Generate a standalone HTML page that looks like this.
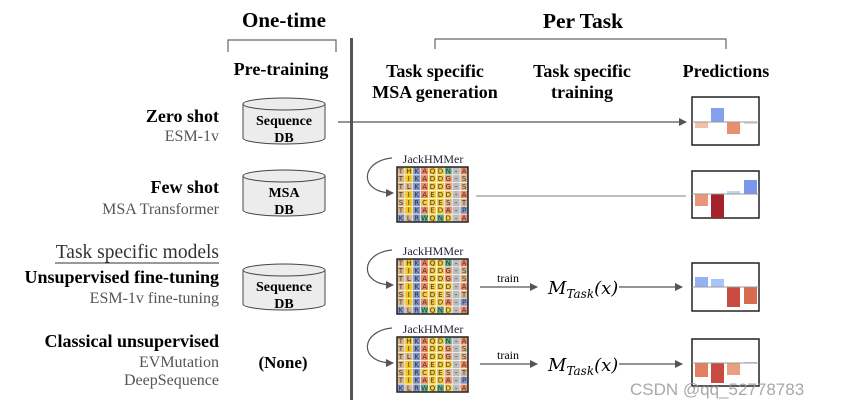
<!DOCTYPE html>
<html><head><meta charset="utf-8"><style>
html,body{margin:0;padding:0;background:#fff;width:845px;height:409px;overflow:hidden}
svg{display:block}
.h{font-family:"Liberation Serif",serif;font-weight:bold;fill:#000}
.s{font-family:"Liberation Serif",serif;fill:#555}
</style></head><body>
<svg id="sv" width="845" height="409" viewBox="0 0 845 409" xmlns="http://www.w3.org/2000/svg">
<defs><marker id="ar" markerWidth="8" markerHeight="8" refX="7" refY="4" orient="auto" markerUnits="userSpaceOnUse"><path d="M0,0 L8,4 L0,8 z" fill="#555"/></marker></defs>
<!-- headers -->
<text class="h" x="284" y="27" font-size="21" text-anchor="middle">One-time</text>
<path d="M228,52 V40 H336 V52" fill="none" stroke="#666" stroke-width="1.2"/>
<text class="h" x="281" y="75" font-size="18" text-anchor="middle">Pre-training</text>
<text class="h" x="583" y="28" font-size="21.5" text-anchor="middle">Per Task</text>
<path d="M435,49 V39 H726 V49" fill="none" stroke="#666" stroke-width="1.2"/>
<text class="h" x="435" y="77" font-size="18" text-anchor="middle">Task specific</text>
<text class="h" x="435" y="98" font-size="18" text-anchor="middle">MSA generation</text>
<text class="h" x="582" y="77" font-size="18" text-anchor="middle">Task specific</text>
<text class="h" x="582" y="98" font-size="18" text-anchor="middle">training</text>
<text class="h" x="726" y="77" font-size="18" text-anchor="middle">Predictions</text>
<rect x="350" y="38" width="3" height="362" fill="#555"/>
<!-- left labels -->
<text class="h" x="219" y="122" font-size="18" text-anchor="end">Zero shot</text>
<text class="s" x="219" y="141" font-size="16" text-anchor="end">ESM-1v</text>
<text class="h" x="219" y="193" font-size="18" text-anchor="end">Few shot</text>
<text class="s" x="219" y="214" font-size="16" text-anchor="end">MSA Transformer</text>
<text x="219" y="258" font-size="19.5" text-anchor="end" font-family="Liberation Serif,serif" fill="#333">Task specific models</text>
<line x1="55" y1="263" x2="219" y2="263" stroke="#333" stroke-width="1"/>
<text class="h" x="219" y="283" font-size="18" text-anchor="end">Unsupervised fine-tuning</text>
<text class="s" x="219" y="303" font-size="16" text-anchor="end">ESM-1v fine-tuning</text>
<text class="h" x="219" y="347" font-size="18" text-anchor="end">Classical unsupervised</text>
<text class="s" x="219" y="367" font-size="16" text-anchor="end">EVMutation</text>
<text class="s" x="219" y="385" font-size="16" text-anchor="end">DeepSequence</text>
<text class="h" x="283" y="368" font-size="17" text-anchor="middle">(None)</text>
<!-- arrows -->
<line x1="338" y1="122" x2="686" y2="122" stroke="#555" stroke-width="1.2" marker-end="url(#ar)"/>
<line x1="476" y1="196" x2="686" y2="196" stroke="#999" stroke-width="1.2"/>
<line x1="480" y1="287" x2="537" y2="287" stroke="#555" stroke-width="1.2" marker-end="url(#ar)"/>
<line x1="619" y1="287" x2="682" y2="287" stroke="#555" stroke-width="1.2" marker-end="url(#ar)"/>
<line x1="480" y1="364" x2="537" y2="364" stroke="#555" stroke-width="1.2" marker-end="url(#ar)"/>
<line x1="619" y1="364" x2="682" y2="364" stroke="#555" stroke-width="1.2" marker-end="url(#ar)"/>
<text x="508" y="282" font-size="12" text-anchor="middle" font-family="Liberation Serif,serif">train</text>
<text x="508" y="359" font-size="12" text-anchor="middle" font-family="Liberation Serif,serif">train</text>
<text x="548" y="294" font-size="18" font-family="DejaVu Serif,serif" font-style="italic">M<tspan font-size="12" dy="4">Task</tspan><tspan dy="-4">(x)</tspan></text>
<text x="548" y="371" font-size="18" font-family="DejaVu Serif,serif" font-style="italic">M<tspan font-size="12" dy="4">Task</tspan><tspan dy="-4">(x)</tspan></text>
<g id="dyn"></g>
<text x="630" y="395" font-size="17" font-family="Liberation Sans,sans-serif" fill="#999" opacity="0.85">CSDN @qq_52778783</text>
</svg>
<script>
var g=document.getElementById('dyn'),h='';
function cyl(y,t1,t2){var x=243,w=82,rx=41,ry=6,H=46;
h+='<path d="M'+x+','+(y+ry)+' V'+(y+ry+H-12)+' A'+rx+','+ry+' 0 0 0 '+(x+w)+','+(y+ry+H-12)+' V'+(y+ry)+'" fill="#ececec" stroke="#444" stroke-width="1"/>';
h+='<ellipse cx="'+(x+rx)+'" cy="'+(y+ry)+'" rx="'+rx+'" ry="'+ry+'" fill="#ececec" stroke="#444" stroke-width="1"/>';
if(t2){h+='<text class="h" x="284" y="'+(y+27)+'" font-size="14" text-anchor="middle">'+t1+'</text><text class="h" x="284" y="'+(y+44)+'" font-size="14" text-anchor="middle">'+t2+'</text>';}}
cyl(98,'Sequence','DB');cyl(170,'MSA','DB');cyl(264,'Sequence','DB');
var rows=['THKAQDN-A','TIKADDG-S','TLKADDG-S','TIKAEDD-A','SIRCDES-T','TIKAEDA-P','KLRWQND-A'];
var col={T:'#d9b58c',S:'#d9b58c',L:'#d9b58c',I:'#f2c61f',H:'#f2c61f',M:'#f2c61f',K:'#8496cc',R:'#8496cc',P:'#8496cc',A:'#ee8a62',G:'#ee9a6e',Q:'#f4cc45',D:'#f4cc45',E:'#f4cc45',C:'#f4cc45',N:'#68b48e',W:'#68b48e','-':'#bbbbbb'};
function grid(y){var x=397,w=71,hh=55,cw=w/9,rh=hh/7;
h+='<text x="433" y="'+(y-4)+'" font-size="12" text-anchor="middle" font-family="Liberation Serif,serif" fill="#223">JackHMMer</text>';
for(var r=0;r<7;r++)for(var c=0;c<9;c++){var ch=rows[r][c];
h+='<rect x="'+(x+c*cw)+'" y="'+(y+r*rh)+'" width="'+cw+'" height="'+rh+'" fill="'+col[ch]+'" stroke="#fff" stroke-width="0.6"/>';
h+='<text x="'+(x+c*cw+cw/2)+'" y="'+(y+r*rh+rh-1.5)+'" font-size="7" text-anchor="middle" font-family="DejaVu Sans,sans-serif" fill="#333">'+ch+'</text>';}
h+='<rect x="'+x+'" y="'+y+'" width="'+w+'" height="'+hh+'" fill="none" stroke="#222" stroke-width="1.5"/>';
h+='<path d="M392,'+(y-9)+' C360,'+(y-6)+' 358,'+(y+26)+' 393,'+(y+26)+'" fill="none" stroke="#555" stroke-width="1.2" marker-end="url(#ar)"/>';}
grid(167);grid(259);grid(337);
function box(y0,y1,base,bars){h+='<rect x="692" y="'+y0+'" width="67" height="'+(y1-y0)+'" fill="#fff" stroke="#222" stroke-width="1.5"/>';
var xs=[695,711,727,744];for(var i=0;i<4;i++){var e=bars[i][0];h+='<rect x="'+xs[i]+'" y="'+Math.min(base,e)+'" width="13" height="'+Math.abs(e-base)+'" fill="'+bars[i][1]+'"/>';}
h+='<line x1="692" y1="'+base+'" x2="759" y2="'+base+'" stroke="#999" stroke-width="1"/>';}
box(97,145,122,[[128,'#f0c0a8'],[108,'#85a0ef'],[134,'#e8906e'],[124,'#ead6ce']]);
box(171,218,194,[[206,'#e8957a'],[218,'#a3222c'],[191,'#c4d4f0'],[180,'#7a96ee']]);
box(263,311,287,[[277,'#93b2f3'],[279,'#a9c2f7'],[307,'#c84a40'],[304,'#d76a50']]);
box(339,386,363,[[377,'#e08060'],[383,'#c84a40'],[375,'#e8a080'],[362,'#c4d0e8']]);
g.innerHTML=h;
</script>
</body></html>
